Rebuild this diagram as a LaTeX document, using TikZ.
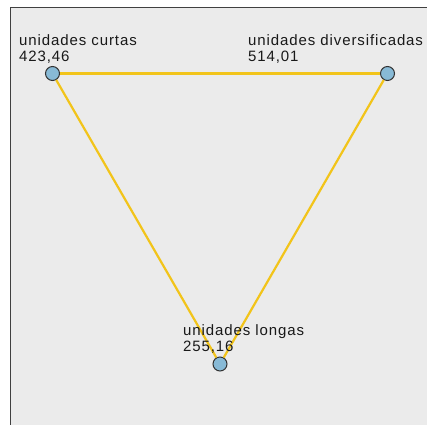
\documentclass[tikz,border=0pt]{standalone}
\usepackage{fontspec}
\setmainfont{Liberation Sans}
\definecolor{panelgray}{HTML}{EBEBEB}
\definecolor{edgeyellow}{HTML}{F2C41A}
\definecolor{pointblue}{HTML}{88BAD6}

\begin{document}
\begin{tikzpicture}[x=1pt,y=-1pt,
    point/.style={circle,draw=black!80,line width=1pt,fill=pointblue,minimum size=14pt,inner sep=0pt},
    edge/.style={edgeyellow,line width=2.2pt},
    lbl/.style={anchor=base west,align=left,inner sep=0pt,text=black!90,
        font=\fontsize{15}{16}\selectfont\addfontfeature{LetterSpace=6}}]
    \useasboundingbox (0,0) rectangle (427,425);

    % panel
    \fill[panelgray] (10,8) rectangle (427,425);
    \draw[black!75,line width=1pt] (427,8) -- (10,8) -- (10,425);

    % points
    \node[point] (curtas) at (52.5,73.5) {};
    \node[point] (divers) at (387.5,73.5) {};
    \node[point] (longas) at (220,364) {};

    \draw[edge] (curtas) -- (divers);
    \draw[edge] (divers) -- (longas);
    \draw[edge] (longas) -- (curtas);

    % labels (base = last line)
    \node[lbl] (curtaslbl) at (19,61.5) {unidades curtas\\423,46};
    \node[lbl] (diverslbl) at (248,62) {unidades diversificadas\\514,01};
    \node[lbl] (longaslbl) at (183,351.5) {unidades longas\\255,16};
\end{tikzpicture}
\end{document}
